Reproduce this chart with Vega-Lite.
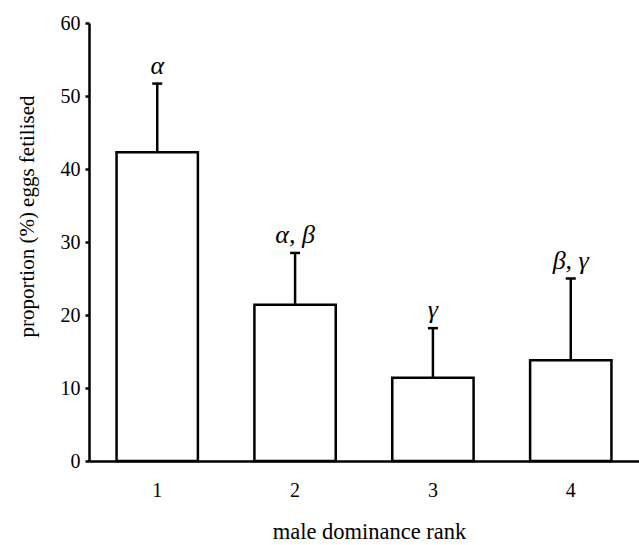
{
  "$schema": "https://vega.github.io/schema/vega-lite/v6.json",
  "width": 550,
  "height": 438,
  "autosize": "none",
  "padding": {"left": 89, "top": 23, "right": 0, "bottom": 84},
  "background": "white",
  "config": {
    "view": {"stroke": null},
    "font": "Liberation Serif, Times New Roman, serif",
    "axis": {"grid": false, "domainColor": "black", "domainWidth": 2.5, "tickColor": "black", "tickWidth": 2.5, "labelFont": "Liberation Serif, Times New Roman, serif", "titleFont": "Liberation Serif, Times New Roman, serif", "labelColor": "black", "titleColor": "black", "labelFontSize": 20, "titleFontWeight": "normal"}
  },
  "data": {
    "values": [
      {"rank": "1", "value": 42.3, "upper": 51.7, "label": "α"},
      {"rank": "2", "value": 21.4, "upper": 28.5, "label": "α, β"},
      {"rank": "3", "value": 11.4, "upper": 18.2, "label": "γ"},
      {"rank": "4", "value": 13.8, "upper": 25.0, "label": "β, γ"}
    ]
  },
  "encoding": {
    "x": {
      "field": "rank", "type": "ordinal",
      "scale": {"paddingInner": 0.41, "paddingOuter": 0.2},
      "axis": {"title": "male dominance rank", "labelAngle": 0, "ticks": false, "labelPadding": 19, "titleFontSize": 22.5, "titleX": 280, "titleY": 77, "titleBaseline": "alphabetic", "titleAlign": "center"}
    }
  },
  "layer": [
    {
      "mark": {"type": "rule", "stroke": "black", "strokeWidth": 2.5},
      "encoding": {
        "y": {"field": "value", "type": "quantitative"},
        "y2": {"field": "upper"}
      }
    },
    {
      "mark": {"type": "tick", "orient": "horizontal", "color": "black", "size": 10, "thickness": 2.5, "opacity": 1},
      "encoding": {
        "y": {"field": "upper", "type": "quantitative"}
      }
    },
    {
      "mark": {"type": "bar", "fill": "white", "stroke": "black", "strokeWidth": 2.5},
      "encoding": {
        "y": {
          "field": "value", "type": "quantitative",
          "scale": {"domain": [0, 60], "nice": false},
          "axis": {"title": "proportion (%) eggs fetilised", "values": [0, 10, 20, 30, 40, 50, 60], "tickSize": 4, "labelPadding": 5, "titleFontSize": 21, "titleAngle": -90, "titleX": -56, "titleY": 193, "titleBaseline": "alphabetic", "titleAlign": "center"}
        }
      }
    },
    {
      "mark": {"type": "text", "font": "Liberation Serif, Times New Roman, serif", "fontStyle": "italic", "fontSize": 26, "baseline": "alphabetic", "dy": -10, "color": "black"},
      "encoding": {
        "y": {"field": "upper", "type": "quantitative"},
        "text": {"field": "label"}
      }
    }
  ]
}
